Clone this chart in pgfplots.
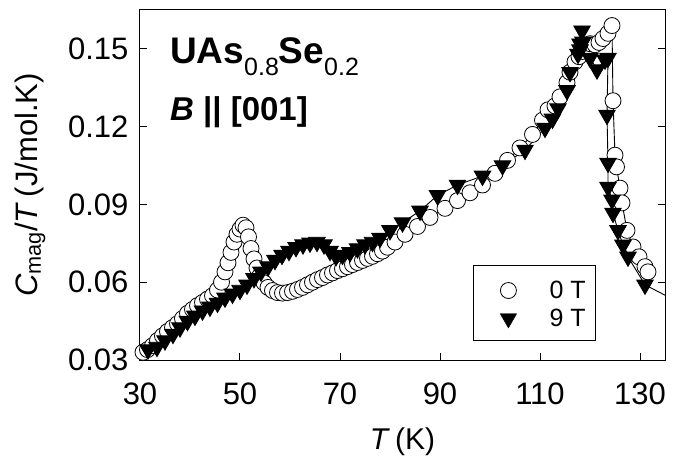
\documentclass[border=0pt]{standalone}
\usepackage{fontspec}
\setmainfont{Liberation Sans}
\usepackage{pgfplots}
\pgfplotsset{compat=1.18}
\newcommand{\sub}[1]{\raisebox{-12bp}{\fontsize{25bp}{25bp}\selectfont\mdseries #1}}
\begin{document}
\begin{tikzpicture}
\begin{axis}[
  at={(0,0)}, anchor=south west,
  scale only axis, width=525bp, height=350bp,
  xmin=30, xmax=135, ymin=0.03, ymax=0.165,
  xtick={30,50,70,90,110,130},
  ytick={0.03,0.06,0.09,0.12,0.15},
  yticklabel style={/pgf/number format/fixed, /pgf/number format/fixed zerofill, /pgf/number format/precision=2, xshift=-8bp},
  /pgf/number format/assume math mode=true,
  tick label style={font=\fontsize{31bp}{34bp}\selectfont},
  xticklabel style={yshift=-19bp},
  tick align=inside, major tick length=7bp,
  xtick pos=bottom, ytick pos=both,
  axis line style={line width=1bp},
  tick style={line width=1bp, black},
  xlabel={\textit{T}\,(K)},
  ylabel={\textit{C}\textsubscript{mag}/\textit{T}\,(J/mol.K)},
  every axis x label/.style={at={(axis description cs:0.5,0)}, anchor=center, yshift=-82bp, font=\fontsize{30bp}{32bp}\selectfont},
  every axis y label/.style={at={(axis description cs:-0.2095,0.5)}, anchor=center, rotate=90, font=\fontsize{31bp}{33bp}\selectfont},
  legend image code/.code={\draw[#1, only marks] plot coordinates {(0bp,0bp)};},
  legend style={at={(rel axis cs:0.6857,0.229)}, anchor=north west, draw=none, fill=none,
    font=\fontsize{25bp}{27bp}\selectfont, inner sep=0bp, row sep=7bp,
    nodes={inner sep=1bp}},
  legend cell align=left,
]
\addplot[forget plot, black, line width=0.9bp, mark=*, mark size=8bp,
  mark options={fill=white, draw=black, line width=0.8bp}] coordinates {
(30.6,0.0330) (31.5,0.0340) (32.5,0.0355) (33.5,0.0375) (34.5,0.0393)
(35.5,0.0410) (36.5,0.0425) (37.5,0.0440) (38.5,0.0460) (39.5,0.0480)
(40.5,0.0495) (41.5,0.0510) (42.5,0.0522) (43.5,0.0535) (44.5,0.0548)
(45.5,0.0570) (46.3,0.0600) (47.0,0.0640) (47.6,0.0675) (48.2,0.0715)
(48.8,0.0755) (49.4,0.0785) (50.0,0.0805) (50.6,0.0820) (51.2,0.0810)
(51.7,0.0775) (52.2,0.0730) (52.8,0.0690) (53.4,0.0655) (54.0,0.0625)
(54.8,0.0598) (55.6,0.0580) (56.5,0.0568) (57.5,0.0560) (58.5,0.0558)
(59.5,0.0560) (60.5,0.0565) (61.5,0.0572) (62.5,0.0580) (63.5,0.0590)
(64.5,0.0600) (65.5,0.0610) (66.5,0.0618) (67.5,0.0628) (68.5,0.0636)
(69.5,0.0645) (70.5,0.0652) (71.5,0.0660) (72.5,0.0668) (73.5,0.0676)
(74.5,0.0684) (75.5,0.0692) (76.5,0.0700) (77.5,0.0710) (78.5,0.0720)
(79.5,0.0735) (81.0,0.0755) (83.0,0.0785) (85.5,0.0815) (88.0,0.0850)
(91.0,0.0885) (93.5,0.0915) (96.0,0.0945) (98.5,0.0975) (101.0,0.1020)
(103.5,0.1070) (106.0,0.1118) (108.5,0.1170) (110.5,0.1225) (111.6,0.1265)
(113.0,0.1280) (114.0,0.1315) (115.4,0.1370) (116.0,0.1410) (117.0,0.1450)
(117.8,0.1470) (118.5,0.1490) (119.2,0.1505) (120.0,0.1520) (121.0,0.1516)
(121.8,0.1525) (122.6,0.1540) (123.6,0.1560) (124.4,0.1590) (124.6,0.1300)
(125.0,0.1090) (125.3,0.1045) (126.0,0.0963) (126.4,0.0906) (127.4,0.0800)
(128.6,0.0736) (129.8,0.0698) (131.0,0.0660) (131.6,0.0640)
};
\addplot[forget plot, black, line width=0.9bp, mark=triangle*, mark size=9.5bp,
  mark options={fill=black, draw=black, rotate=180}] coordinates {
(31.6,0.0340) (33.4,0.0350) (35.0,0.0375) (36.6,0.0400) (38.0,0.0425)
(39.5,0.0450) (41.0,0.0470) (42.5,0.0490) (44.0,0.0505) (45.5,0.0520)
(47.0,0.0540) (48.5,0.0555) (50.0,0.0570) (51.4,0.0590) (52.8,0.0615)
(54.2,0.0640) (55.6,0.0660) (57.0,0.0685) (58.4,0.0705) (59.8,0.0720)
(61.2,0.0735) (62.6,0.0745) (64.0,0.0752) (65.4,0.0755) (66.8,0.0745)
(68.0,0.0720) (69.2,0.0700) (70.5,0.0705) (72.0,0.0715) (73.5,0.0730)
(75.0,0.0745) (76.5,0.0755) (78.0,0.0770) (80.0,0.0800) (82.5,0.0830)
(86.0,0.0875) (89.5,0.0935) (93.5,0.0975) (98.5,0.1010) (102.5,0.1050)
(107.0,0.1110) (111.0,0.1195) (112.5,0.1230) (113.6,0.1270) (115.4,0.1340)
(116.0,0.1410) (117.6,0.1480) (118.0,0.1520) (118.4,0.1570) (118.6,0.1527)
(118.0,0.1497) (120.0,0.1465) (121.4,0.1420) (123.0,0.1458) (123.6,0.1465)
(123.4,0.1245) (123.6,0.1060) (123.6,0.0967) (124.4,0.0918) (124.6,0.0867)
(125.6,0.0800) (126.6,0.0744) (127.6,0.0698) (131.0,0.0590) (136.0,0.0540)
};
\addlegendimage{only marks, mark=*, mark size=8bp, mark options={fill=white, draw=black, line width=0.8bp}}
\addlegendentry{\hspace{32bp}0 T}
\addlegendimage{only marks, mark=triangle*, mark size=9.5bp, mark options={fill=black, draw=black, rotate=180}}
\addlegendentry{\hspace{32bp}9 T}
\draw[line width=1bp] (rel axis cs:0.6343,0.0543) rectangle (rel axis cs:0.8667,0.2686);
\node[anchor=base west, inner sep=0pt, font=\fontsize{37bp}{40bp}\selectfont\bfseries]
  at (rel axis cs:0.0571,0.848) {UAs\sub{0.8}Se\sub{0.2}};
\node[anchor=base west, inner sep=0pt, font=\fontsize{33bp}{36bp}\selectfont\bfseries]
  at (rel axis cs:0.0571,0.6857) {\textit{B} || [001]};
\end{axis}
\pgfresetboundingbox
\path[use as bounding box] (-140bp,-100bp) rectangle (539bp,360bp);
\end{tikzpicture}
\end{document}
